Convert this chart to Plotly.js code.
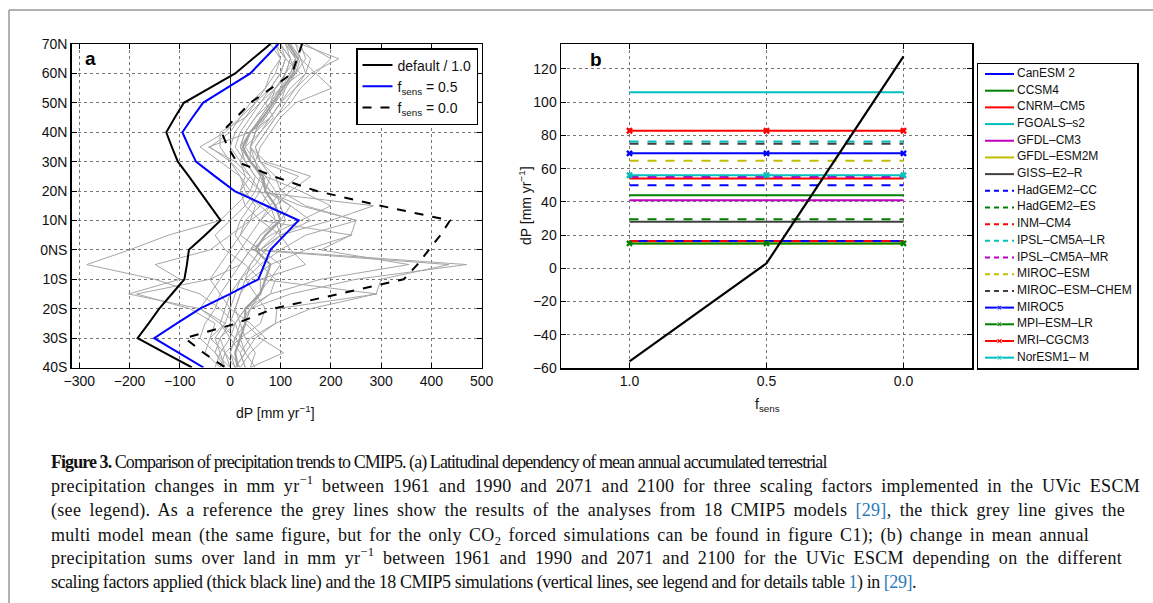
<!DOCTYPE html>
<html><head><meta charset="utf-8">
<script src="https://cdn.plot.ly/plotly-3.0.1.min.js"></script>
<style>html,body{margin:0;padding:0;background:#fff}#chart{width:1153px;height:603px}</style>
</head><body><div id="chart"></div>
<script>
// ---------- Panel a data ----------
const lat = [70,65,60,55,50,45,40,35,30,25,20,15,10,5,0,-5,-10,-15,-20,-25,-30,-35,-40];
const latTicks = [70,60,50,40,30,20,10,0,-10,-20,-30,-40];
const latLabels = ['70N','60N','50N','40N','30N','20N','10N','0NS','10S','20S','30S','40S'];

const uvicDefault = [80,45,10,-41,-92,-110,-127,-116,-104,-82,-61,-40,-19,-50,-82,-86,-91,-116,-141,-162,-184,-130,-76];
const uvicHalf    = [96,68,40,-7,-54,-75,-95,-82,-68,-30,9,72,136,108,80,68,56,0,-60,-106,-151,-102,-53];
const uvicZero    = [143,133,123,82,40,12,-17,-5,13,86,172,299,437,418,395,372,345,215,86,13,-90,-53,-10];

const cmip = {
  g1:  [130,160,150,120,100,80,60,40,60,80,70,120,160,100,60,470,250,120,40,20,10,0,20],
  g2:  [100,120,110,90,60,30,10,0,20,30,20,60,90,60,40,435,300,290,160,90,50,30,10],
  g3:  [150,200,170,140,120,90,70,50,60,90,100,150,250,240,180,355,180,80,30,10,-20,-10,0],
  g4:  [90,110,100,80,50,20,-10,-60,-20,20,40,10,-20,-123,-200,-285,-150,-60,-20,10,20,30,10],
  g5:  [80,100,90,70,40,20,0,-40,0,30,60,80,40,0,-40,-149,-100,-202,-60,-10,-30,-20,-10],
  g6:  [110,130,120,90,70,50,30,20,40,70,140,200,140,80,40,20,-40,-186,-80,-30,-40,-10,10],
  g7:  [140,216,160,130,100,80,50,40,70,160,120,90,60,100,120,150,60,60,40,30,60,106,40],
  g8:  [120,140,170,202,130,100,80,60,50,60,80,60,30,20,60,100,80,56,30,10,0,-20,-30],
  g9:  [100,120,130,100,80,60,40,20,30,50,40,285,200,100,60,40,20,10,0,-10,-40,-50,-20],
  g10: [90,110,140,100,70,86,60,30,20,40,20,30,60,242,150,80,40,20,10,0,-20,-30,0],
  g11: [110,130,120,100,90,70,50,40,50,60,50,30,0,-30,-10,30,60,292,93,90,40,20,30],
  g12: [130,140,150,130,110,90,70,50,60,136,100,80,60,40,20,0,-20,-40,-60,-20,10,30,50],
  g13: [100,110,100,80,60,40,20,10,30,50,80,120,100,60,40,20,0,-20,-30,-50,-60,-30,-10],
  g14: [120,130,110,90,80,60,50,40,40,60,70,140,252,150,100,60,30,20,10,20,30,50,40],
  g15: [140,150,130,110,100,80,40,-43,10,40,60,80,90,100,70,50,20,0,-10,-20,0,20,30],
  g16: [110,120,110,100,80,50,30,20,40,70,90,100,110,90,60,40,30,50,70,60,20,-10,-20],
  g17: [90,100,80,70,50,30,-20,-20,0,20,30,50,40,20,0,-20,-40,-20,0,40,70,40,20],
  g18: [120,140,130,110,90,70,40,30,50,70,60,40,20,10,30,60,90,80,40,30,10,0,10]
};
const cmipMean = [115,135,125,105,85,65,40,25,40,65,70,90,100,70,50,80,70,60,30,30,20,10,15];

// ---------- Panel b data ----------
const fsens = [1.0, 0.5, 0.0];
const fsensLabels = ['1.0','0.5','0.0'];
const uvicLand = [-56, 3, 127.5];
const models = ['CanESM 2','CCSM4','CNRM\u2013CM5','FGOALS\u2013s2','GFDL\u2013CM3','GFDL\u2013ESM2M','GISS\u2013E2\u2013R',
  'HadGEM2\u2013CC','HadGEM2\u2013ES','INM\u2013CM4','IPSL\u2013CM5A\u2013LR','IPSL\u2013CM5A\u2013MR','MIROC\u2013ESM','MIROC\u2013ESM\u2013CHEM',
  'MIROC5','MPI\u2013ESM\u2013LR','MRI\u2013CGCM3','NorESM1\u2013 M'];
const modelDP = [16.5,44,54,106,41,15,28,50,29.6,16.5,76.3,55,64.8,75,69.2,15,82.8,56];
const modelColor = ['#0000ff','#008000','#ff0000','#00bfbf','#bf00bf','#bfbf00','#404040',
  '#0000ff','#008000','#ff0000','#00bfbf','#bf00bf','#bfbf00','#404040',
  '#0000ff','#008000','#ff0000','#00bfbf'];
const modelDash = ['solid','solid','solid','solid','solid','solid','solid',
  'dash','dash','dash','dash','dash','dash','dash','solid','solid','solid','solid'];
const modelMarker = [0,0,0,0,0,0,0,0,0,0,0,0,0,0,1,1,1,1];

// ---------- traces ----------
const traces = [];
Object.keys(cmip).forEach(k => traces.push({x: cmip[k], y: lat, mode:'lines', xaxis:'x', yaxis:'y',
  line:{color:'#a6a6a6', width:1}, showlegend:false, hoverinfo:'skip'}));
traces.push({x: cmipMean, y: lat, mode:'lines', line:{color:'#a0a0a0', width:2.2}, showlegend:false, hoverinfo:'skip'});
traces.push({x: uvicDefault, y: lat, mode:'lines', name:'default / 1.0', line:{color:'#000', width:2}});
traces.push({x: uvicHalf, y: lat, mode:'lines', name:'f<sub>sens</sub> = 0.5', line:{color:'#0000ff', width:2}});
traces.push({x: uvicZero, y: lat, mode:'lines', name:'f<sub>sens</sub> = 0.0', line:{color:'#000', width:2, dash:'dash'}});

models.forEach((m,i) => {
  traces.push({x: fsens, y: fsens.map(() => modelDP[i]), xaxis:'x2', yaxis:'y2', mode: modelMarker[i] ? 'lines+markers':'lines',
    line:{color:modelColor[i], width:2, dash:modelDash[i]}, marker:{symbol:'x', size:6, color:modelColor[i]},
    showlegend:false, hoverinfo:'skip'});
});
traces.push({x: fsens, y: uvicLand, xaxis:'x2', yaxis:'y2', mode:'lines', line:{color:'#000', width:2.2}, showlegend:false, hoverinfo:'skip'});

// custom legend for panel b (axes x3/y3: 1 unit = 1 px horizontally, 1 unit = 1 entry vertically)
models.forEach((m,i) => {
  traces.push({x:[7,21.5,36], y:[i,i,i], xaxis:'x3', yaxis:'y3', mode: modelMarker[i] ? 'lines+markers':'lines',
    line:{color:modelColor[i], width:2, dash: modelDash[i]==='dash' ? '5px,4px' : 'solid'},
    marker:{symbol:'x', size:[0,5,0], color:modelColor[i]}, showlegend:false, hoverinfo:'skip'});
});
traces.push({x: models.map(()=>39), y: models.map((m,i)=>i), text: models, xaxis:'x3', yaxis:'y3', mode:'text',
  textposition:'middle right', textfont:{family:'Liberation Sans, Arial', size:12, color:'#111'}, showlegend:false, hoverinfo:'skip'});

// ---------- layout ----------
const W = 1153, H = 603;
const px = v => v / W, py = v => 1 - v / H;
const sans = 'Liberation Sans, Arial';
const tickFont = {family:sans, size:14, color:'#111'};
const axCommon = {showline:true, mirror:'ticks', linecolor:'#000', linewidth:1.5, ticks:'inside', ticklen:5, tickcolor:'#000',
  showgrid:true, gridcolor:'#777', griddash:'dot', gridwidth:1, tickfont:tickFont, zeroline:false};

const capFont = {family:'Liberation Serif, Times New Roman, serif', size:18, color:'#111'};
const blue = "<span style='color:#2a7ab9'>";
const capLines = [
  "<b>Figure 3.</b> Comparison of precipitation trends to CMIP5. (a) Latitudinal dependency of mean annual accumulated terrestrial",
  "precipitation changes in mm yr<sup>\u22121</sup> between 1961 and 1990 and 2071 and 2100 for three scaling factors implemented in the UVic ESCM",
  "(see legend). As a reference the grey lines show the results of the analyses from 18 CMIP5 models " + blue + "[29]</span>, the thick grey line gives the",
  "multi model mean (the same figure, but for the only CO<sub>2</sub> forced simulations can be found in figure C1); (b) change in mean annual",
  "precipitation sums over land in mm yr<sup>\u22121</sup> between 1961 and 1990 and 2071 and 2100 for the UVic ESCM depending on the different",
  "scaling factors applied (thick black line) and the 18 CMIP5 simulations (vertical lines, see legend and for details table " + blue + "1</span>) in " + blue + "[29]</span>."
];
// vertical centre of each caption line's box (lines with sup/sub have taller boxes)
const capY = [462, 484, 510, 536, 556, 582];
const capLeft = 49;
const capRight = [825, 1138, 1123, 1087, 1120, 914];
const capJustified = [false, true, true, true, true, false];
const baseLS = [-0.5, 0.3, 0.3, 0.3, 0.3, -0.5];

const annotations = [
  {text:'<b>a</b>', x:px(90), y:py(58), xref:'paper', yref:'paper', xanchor:'center', yanchor:'middle', showarrow:false, font:{family:sans, size:19, color:'#000'}},
  {text:'<b>b</b>', x:px(596), y:py(59), xref:'paper', yref:'paper', xanchor:'center', yanchor:'middle', showarrow:false, font:{family:sans, size:19, color:'#000'}},
  {text:'dP [mm yr<sup>\u22121</sup>]', x:px(275), y:py(412), xref:'paper', yref:'paper', xanchor:'center', yanchor:'middle', showarrow:false, font:{family:sans, size:14, color:'#111'}},
  {text:'f<sub>sens</sub>', x:px(767), y:py(405), xref:'paper', yref:'paper', xanchor:'center', yanchor:'middle', showarrow:false, font:{family:sans, size:14, color:'#111'}},
  {text:'dP [mm yr<sup>\u22121</sup>]', x:px(525), y:py(206), xref:'paper', yref:'paper', xanchor:'center', yanchor:'middle', textangle:-90, showarrow:false, font:{family:sans, size:14, color:'#111'}}
];
const capStart = annotations.length;
const wrap = (t, ls, ws) => "<span style='letter-spacing:" + ls.toFixed(3) + "px;word-spacing:" + ws.toFixed(3) + "px'>" + t + "</span>";
capLines.forEach((t,i) => annotations.push({text:wrap(t, baseLS[i], 0), x:px(capLeft), y:py(capY[i]), xref:'paper', yref:'paper', xanchor:'left', yanchor:'middle',
  showarrow:false, font:capFont}));

const layout = {
  width:W, height:H, margin:{l:0,r:0,t:0,b:0}, paper_bgcolor:'#fff', plot_bgcolor:'#fff',
  font:{family:sans, color:'#111'},
  xaxis: Object.assign({}, axCommon, {domain:[px(71.7), px(481.7)], range:[-315,500], tickvals:[-300,-200,-100,0,100,200,300,400,500],
    zeroline:true, zerolinecolor:'#222', zerolinewidth:1}),
  yaxis: Object.assign({}, axCommon, {domain:[py(367.5), py(44)], range:[-40,70], tickvals:latTicks, ticktext:latLabels}),
  xaxis2: Object.assign({}, axCommon, {domain:[px(561), px(972)], range:[1.25,-0.25], tickvals:fsens, ticktext:fsensLabels, anchor:'y2'}),
  yaxis2: Object.assign({}, axCommon, {domain:[py(368), py(44)], range:[-60,135], tickvals:[-60,-40,-20,0,20,40,60,80,100,120], anchor:'x2'}),
  xaxis3: {domain:[px(978), px(1137)], range:[0,159], anchor:'y3', showline:true, mirror:true, linecolor:'#000', linewidth:1.5,
    showgrid:false, zeroline:false, showticklabels:false, ticks:''},
  yaxis3: {domain:[py(368), py(64)], range:[17.62,-0.6], anchor:'x3', showline:true, mirror:true, linecolor:'#000', linewidth:1.5,
    showgrid:false, zeroline:false, showticklabels:false, ticks:''},
  legend:{x:px(356), y:py(48), xanchor:'left', yanchor:'top', bgcolor:'#fff', bordercolor:'#000', borderwidth:1.5,
    font:{family:sans, size:14, color:'#111'}, itemwidth:30, tracegroupgap:0},
  annotations: annotations,
  shapes: [
    {type:'line', xref:'paper', yref:'paper', x0:px(9), x1:px(9), y0:0, y1:py(10), line:{color:'#999', width:1.5}},
    {type:'line', xref:'paper', yref:'paper', x0:px(9), x1:1, y0:py(10), y1:py(10), line:{color:'#999', width:1.5}}
  ],
  showlegend:true
};

const gd = document.getElementById('chart');
function capWidth(i) {
  const el = gd.querySelector('g.annotation[data-index="' + (capStart + i) + '"] text.annotation-text');
  return el ? el.getBBox().width : null;
}
Plotly.newPlot(gd, traces, layout, {staticPlot:true, displayModeBar:false}).then(() => {
  // justify caption lines to the reference widths
  const upd = {};
  capLines.forEach((t,i) => {
    const w = capWidth(i);
    if (w == null) return;
    const target = capRight[i] - capLeft;
    const plain = t.replace(/<[^>]+>/g, '');
    if (capJustified[i]) {
      const spaces = (plain.match(/ /g) || []).length;
      upd['annotations[' + (capStart + i) + '].text'] = wrap(t, baseLS[i], (target - w) / spaces);
    } else {
      upd['annotations[' + (capStart + i) + '].text'] = wrap(t, baseLS[i] + (target - w) / plain.length, 0);
    }
  });
  return Plotly.relayout(gd, upd);
}).then(() => {
  // fallback if word-spacing had no effect: use letter-spacing instead
  const upd = {};
  capLines.forEach((t,i) => {
    const w = capWidth(i);
    const target = capRight[i] - capLeft;
    if (w != null && Math.abs(w - target) > 12) {
      const plain = t.replace(/<[^>]+>/g, '');
      const cur = gd.layout.annotations[capStart + i].text;
      const m = cur.match(/letter-spacing:([-0-9.]+)px/);
      const ls = m ? parseFloat(m[1]) : baseLS[i];
      upd['annotations[' + (capStart + i) + '].text'] = wrap(t, ls + (target - w) / plain.length, 0);
    }
  });
  if (Object.keys(upd).length) return Plotly.relayout(gd, upd);
});
</script></body></html>
